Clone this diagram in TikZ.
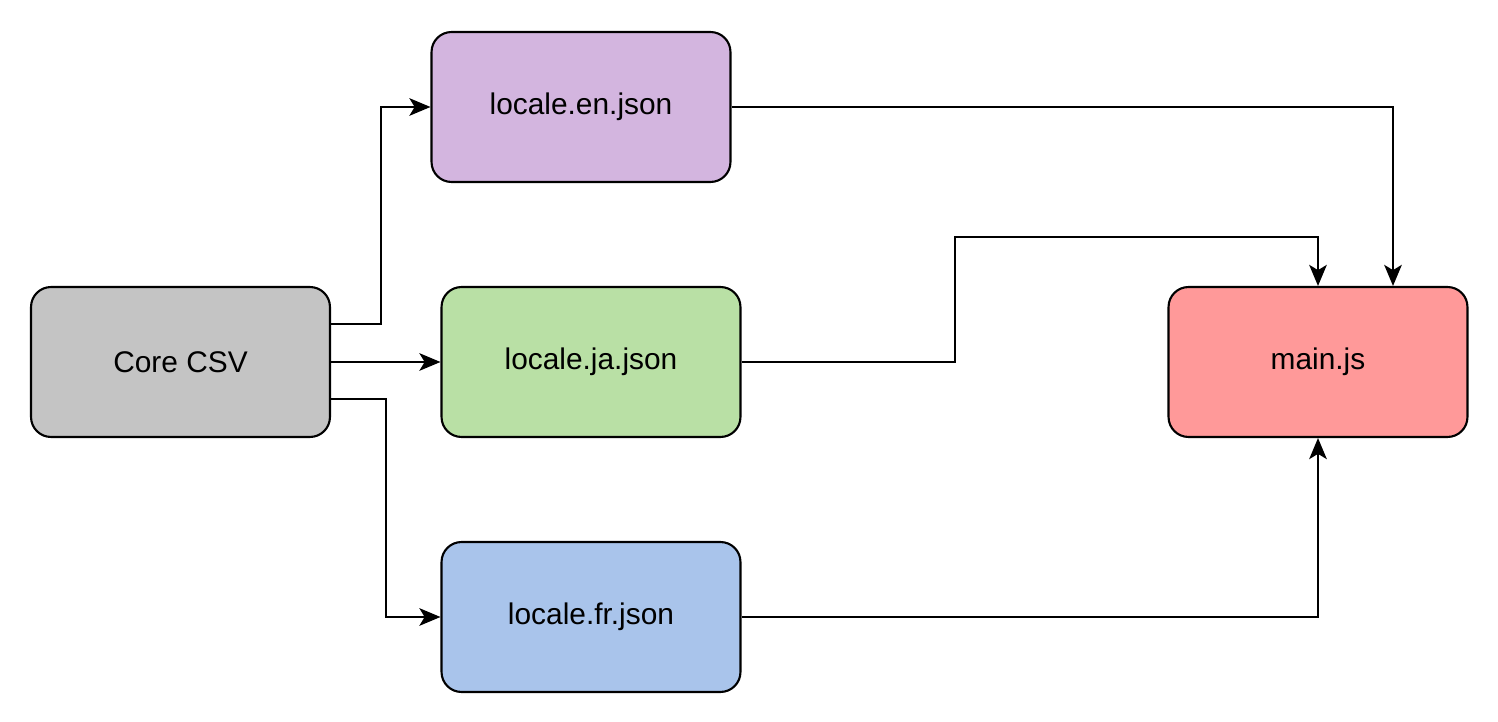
\documentclass[tikz,border=0pt]{standalone}
\usepackage{fontspec}
\setmainfont{Liberation Sans}
\usetikzlibrary{arrows.meta}
\definecolor{cgray}{HTML}{C4C4C4}
\definecolor{cpurple}{HTML}{D3B5DF}
\definecolor{cgreen}{HTML}{B9E0A5}
\definecolor{cblue}{HTML}{A9C4EB}
\definecolor{cred}{HTML}{FF9999}
\tikzset{
  box/.style={draw=black, line width=1.2pt, rounded corners=0.4cm, minimum width=5.98cm, minimum height=3cm, inner sep=0pt, font=\fontsize{17}{20}\selectfont},
  conn/.style={draw=black, line width=1.2pt, -{Stealth[length=12pt,width=10pt,inset=3pt]}}
}
\begin{document}
\begin{tikzpicture}[x=0.02cm,y=-0.02cm]
\useasboundingbox (0,0) rectangle (1498,722);
\node[box, fill=cgray]   (core) at (180.5,362) {Core CSV};
\node[box, fill=cpurple] (en)   at (581,107)   {locale.en.json};
\node[box, fill=cgreen]  (ja)   at (591,362)   {locale.ja.json};
\node[box, fill=cblue]   (fr)   at (591,617)   {locale.fr.json};
\node[box, fill=cred]    (main) at (1318,362)  {main.js};
\draw[conn] (core.east |- 0,324) -| (381,200) |- (en.west);
\draw[conn] (core.east) -- (ja.west);
\draw[conn] (core.east |- 0,399) -| (386,500) |- (fr.west);
\draw[conn] (en.east) -| (main.north -| 1393,0);
\draw[conn] (ja.east) -- (955,362) -- (955,237) -| (main.north);
\draw[conn] (fr.east) -| (main.south);
\end{tikzpicture}
\end{document}
